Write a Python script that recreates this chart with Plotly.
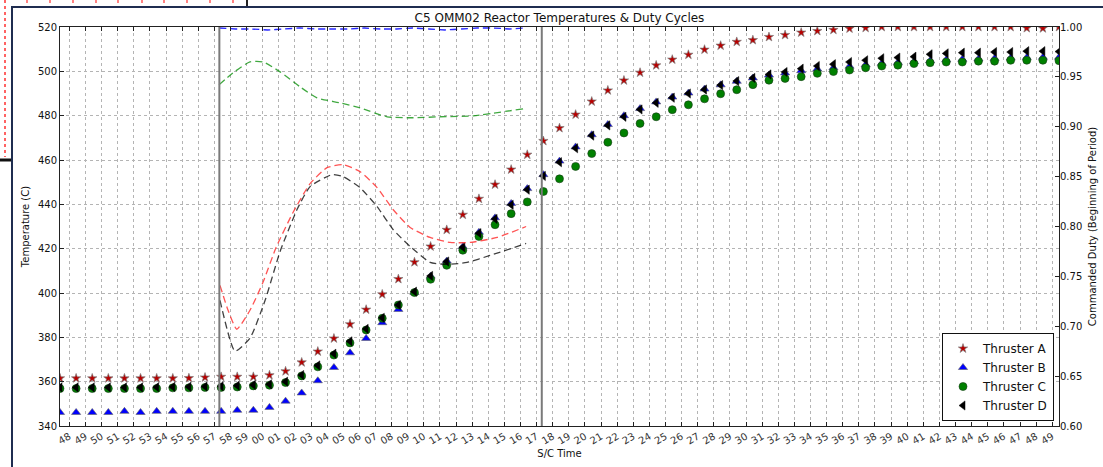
import plotly.graph_objects as go

# ---------------- data ----------------
tick_labels = ["48", "49", "50", "51", "52", "53", "54", "55", "56", "57", "58", "59",
               "00", "01", "02", "03", "04", "05", "06", "07", "08", "09",
               "10", "11", "12", "13", "14", "15", "16", "17", "18", "19",
               "20", "21", "22", "23", "24", "25", "26", "27", "28", "29",
               "30", "31", "32", "33", "34", "35", "36", "37", "38", "39",
               "40", "41", "42", "43", "44", "45", "46", "47", "48", "49"]
tick_positions = list(range(len(tick_labels)))   # minutes since first tick

first_sample = -0.58      # minutes (relative to first tick)
sample_step = 1.0
n_samples = 63
sample_times = [first_sample + i * sample_step for i in range(n_samples)]

thruster_a = [361.5, 361.5, 361.5, 361.5, 361.5, 361.5, 361.5, 361.5, 361.6, 361.9,
              362.2, 362.2, 362.2, 362.9, 364.7, 368.7, 373.6, 379.5, 385.9, 392.5,
              399.4, 406.3, 413.9, 421.0, 428.5, 435.3, 442.5, 448.9, 455.7, 462.4,
              468.6, 474.4, 480.5, 486.4, 491.4, 495.9, 499.4, 502.7, 505.3, 507.5,
              509.8, 511.6, 513.3, 514.1, 515.5, 516.4, 517.5, 518.2, 518.7, 519.3,
              519.6, 520.0, 520.0, 520.0, 520.0, 520.0, 520.0, 520.0, 520.0, 520.0,
              519.5, 519.4, 520.0]
thruster_b = [346.1, 346.1, 346.1, 346.1, 346.6, 346.1, 346.6, 346.6, 346.6, 346.6,
              346.6, 347.1, 347.1, 348.4, 351.2, 354.9, 360.4, 366.4, 373.0, 379.5,
              386.6, 392.6, 400.2, 407.6, 414.4, 420.9, 427.4, 433.9, 440.4, 447.1,
              453.4, 459.5, 465.9, 471.4, 476.0, 480.0, 483.2, 486.2, 488.4, 490.2,
              492.0, 493.9, 495.5, 497.0, 498.3, 499.3, 500.3, 501.0, 501.6, 502.3,
              503.0, 503.6, 504.0, 504.4, 504.8, 505.2, 505.4, 505.6, 505.8, 506.0,
              506.2, 506.3, 506.3]
thruster_c = [356.9, 356.9, 356.9, 356.9, 356.9, 356.9, 356.9, 357.2, 357.2, 357.4,
              357.4, 357.6, 358.1, 358.4, 359.6, 362.6, 366.7, 372.0, 377.5, 383.3,
              388.6, 394.6, 400.2, 406.2, 412.5, 419.3, 425.5, 430.8, 435.8, 441.1,
              445.8, 451.5, 457.1, 462.9, 468.0, 472.2, 476.5, 479.5, 482.7, 484.9,
              487.6, 489.9, 491.7, 494.0, 496.0, 496.8, 497.6, 499.1, 499.9, 500.6,
              501.6, 502.4, 502.8, 503.5, 503.9, 504.2, 504.2, 504.6, 504.6, 505.0,
              505.0, 505.0, 504.8]
thruster_d = [357.4, 357.4, 357.4, 357.4, 357.4, 357.4, 357.5, 357.6, 357.7, 357.8,
              357.9, 358.2, 358.5, 358.8, 360.0, 363.0, 367.3, 372.6, 378.2, 383.8,
              388.8, 394.6, 400.6, 407.7, 414.2, 420.6, 427.0, 433.4, 439.8, 446.6,
              452.8, 459.0, 465.3, 471.0, 475.6, 479.5, 482.8, 485.8, 488.1, 490.0,
              491.8, 493.8, 495.6, 497.0, 498.6, 499.7, 501.2, 502.4, 503.2, 504.2,
              505.0, 505.9, 506.2, 506.6, 507.7, 508.1, 508.4, 508.4, 508.7, 508.7,
              509.1, 509.1, 508.9]

# commanded duty cycles (right axis)
duty_a_t = [9.35, 9.85, 10.39, 11.21, 12.02, 12.83, 13.88, 14.94, 15.99, 16.99,
            18.04, 19.10, 20.09, 21.15, 22.39, 23.63, 24.87, 26.55, 28.35]
duty_a = [0.741, 0.716, 0.697, 0.716, 0.744, 0.779, 0.814, 0.843, 0.859, 0.862,
          0.855, 0.839, 0.817, 0.799, 0.789, 0.784, 0.784, 0.789, 0.800]
duty_b_t = [9.31, 10.31, 11.31, 12.31, 13.31, 14.31, 15.31, 16.31, 17.31, 18.31,
            19.31, 20.31, 21.31, 22.31, 23.31, 24.31, 25.31, 26.31, 27.31, 28.31]
duty_b = [0.999, 0.998, 0.998, 0.997, 0.998, 0.999, 0.998, 0.998, 0.998, 0.999,
          0.998, 0.998, 0.999, 0.998, 0.997, 0.998, 0.999, 0.999, 0.998, 0.999]
duty_c_t = [9.29, 10.16, 11.21, 12.02, 13.08, 14.32, 15.37, 16.80, 18.04, 19.72,
            21.33, 23.01, 25.06, 28.16]
duty_c = [0.942, 0.954, 0.965, 0.965, 0.955, 0.940, 0.929, 0.924, 0.919, 0.910,
          0.909, 0.910, 0.911, 0.918]
duty_d_t = [9.35, 10.28, 11.21, 12.15, 13.08, 14.13, 14.94, 16.30, 16.99, 18.04,
            19.10, 20.09, 21.15, 22.39, 23.44, 24.68, 26.11, 28.35]
duty_d = [0.726, 0.675, 0.688, 0.726, 0.775, 0.817, 0.840, 0.852, 0.850, 0.839,
          0.820, 0.797, 0.780, 0.764, 0.762, 0.764, 0.771, 0.783]

event_times = [9.31, 29.32]

# ---------------- figure ----------------
W, H = 1103, 467
ML, MR, MT, MB = 60, 44, 27, 41
FONT = "DejaVu Sans"

fig = go.Figure()

fig.add_trace(go.Scatter(x=sample_times, y=thruster_a, mode="markers", name="Thruster A",
                         marker=dict(symbol="star", size=7, color="#b80000",
                                     line=dict(color="#808080", width=0.7))))
fig.add_trace(go.Scatter(x=sample_times, y=thruster_b, mode="markers", name="Thruster B",
                         marker=dict(symbol="triangle-up", size=8, color="#0000ff",
                                     line=dict(color="#606060", width=0.6))))
fig.add_trace(go.Scatter(x=sample_times, y=thruster_c, mode="markers", name="Thruster C",
                         marker=dict(symbol="circle", size=8, color="#008000",
                                     line=dict(color="#1a3a1a", width=0.6))))
fig.add_trace(go.Scatter(x=sample_times, y=thruster_d, mode="markers", name="Thruster D",
                         marker=dict(symbol="triangle-left", size=8, color="#000000",
                                     line=dict(color="#000000", width=0.5))))

dash = "7px,4px"
for t, v, c, sm in [(duty_a_t, duty_a, "rgba(255,40,40,0.8)", 0.5),
                    (duty_b_t, duty_b, "rgba(0,0,255,0.85)", 0.0),
                    (duty_c_t, duty_c, "rgba(0,140,0,0.75)", 0.6),
                    (duty_d_t, duty_d, "rgba(0,0,0,0.75)", 0.5)]:
    fig.add_trace(go.Scatter(x=t, y=v, mode="lines", yaxis="y2", showlegend=False,
                             line=dict(color=c, width=1.3, dash=dash, shape="spline",
                                       smoothing=sm)))

shapes = []
for et in event_times:
    shapes.append(dict(type="line", xref="x", yref="paper", x0=et, x1=et, y0=0, y1=1,
                       line=dict(color="#7a7a7a", width=2), layer="above"))


def px(xp):
    return (xp - ML) / (W - ML - MR)


def py(yp):
    return (H - MB - yp) / (H - MT - MB)


# screenshot framing decorations
shapes += [
    dict(type="line", xref="paper", yref="paper", x0=px(12), x1=px(12), y0=py(6), y1=py(470),
         line=dict(color="#1f2d50", width=2)),
    dict(type="line", xref="paper", yref="paper", x0=px(11), x1=px(1106), y0=py(7), y1=py(7),
         line=dict(color="#1f2d50", width=2)),
    dict(type="line", xref="paper", yref="paper", x0=px(247), x1=px(247), y0=py(-2), y1=py(6),
         line=dict(color="#222222", width=2)),
    dict(type="line", xref="paper", yref="paper", x0=px(-2), x1=px(11), y0=py(160), y1=py(160),
         line=dict(color="#111111", width=3)),
    dict(type="line", xref="paper", yref="paper", x0=px(5), x1=px(5), y0=py(0), y1=py(157),
         line=dict(color="#ff3030", width=1.5, dash="dot")),
]
for xr in [27, 50, 73, 96, 118, 142, 164, 187, 210, 233]:
    shapes.append(dict(type="line", xref="paper", yref="paper", x0=px(xr), x1=px(xr),
                       y0=py(0), y1=py(5), line=dict(color="#ff3030", width=1.2, dash="dot")))

grid = dict(showgrid=True, gridcolor="#b4b4b4", griddash="dot", gridwidth=1)

fig.update_layout(
    width=W, height=H,
    margin=dict(l=ML, r=MR, t=MT, b=MB, autoexpand=False),
    paper_bgcolor="white", plot_bgcolor="white",
    font=dict(family=FONT, size=10, color="#111111"),
    title=dict(text="C5 OMM02 Reactor Temperatures & Duty Cycles", x=0.5, xref="paper",
               xanchor="center", y=1 - 18 / H, yref="container", yanchor="middle",
               font=dict(size=12, color="#111111")),
    xaxis=dict(range=[first_sample, first_sample + (n_samples - 1) * sample_step],
               tickmode="array", tickvals=tick_positions, ticktext=tick_labels,
               tickangle=-30, ticks="inside", ticklen=4, tickcolor="#222",
               showline=True, linecolor="#222222", linewidth=1, mirror="ticks",
               zeroline=False, tickfont=dict(size=10, color="#333333"),
               title=dict(text="S/C Time", font=dict(size=10), standoff=4), **grid),
    yaxis=dict(range=[340, 520], dtick=20, tick0=340, ticks="inside", ticklen=4,
               tickcolor="#222", showline=True, linecolor="#222222", linewidth=1,
               mirror=True, zeroline=False, tickfont=dict(size=10),
               title=dict(text="Temperature (C)", font=dict(size=10), standoff=6), **grid),
    yaxis2=dict(range=[0.6, 1.0], dtick=0.05, tick0=0.6, tickformat=".2f",
                overlaying="y", side="right", ticks="inside", ticklen=4, tickcolor="#222",
                showline=False, showgrid=False, zeroline=False, tickfont=dict(size=10),
                title=dict(text="Commanded Duty (Beginning of Period)", font=dict(size=10),
                           standoff=7)),
    legend=dict(x=px(1054), xanchor="right", y=py(421), yanchor="bottom",
                bgcolor="white", bordercolor="#111111", borderwidth=1,
                font=dict(size=12), tracegroupgap=0),
    shapes=shapes,
    showlegend=True,
)

fig.write_html("out.html")
